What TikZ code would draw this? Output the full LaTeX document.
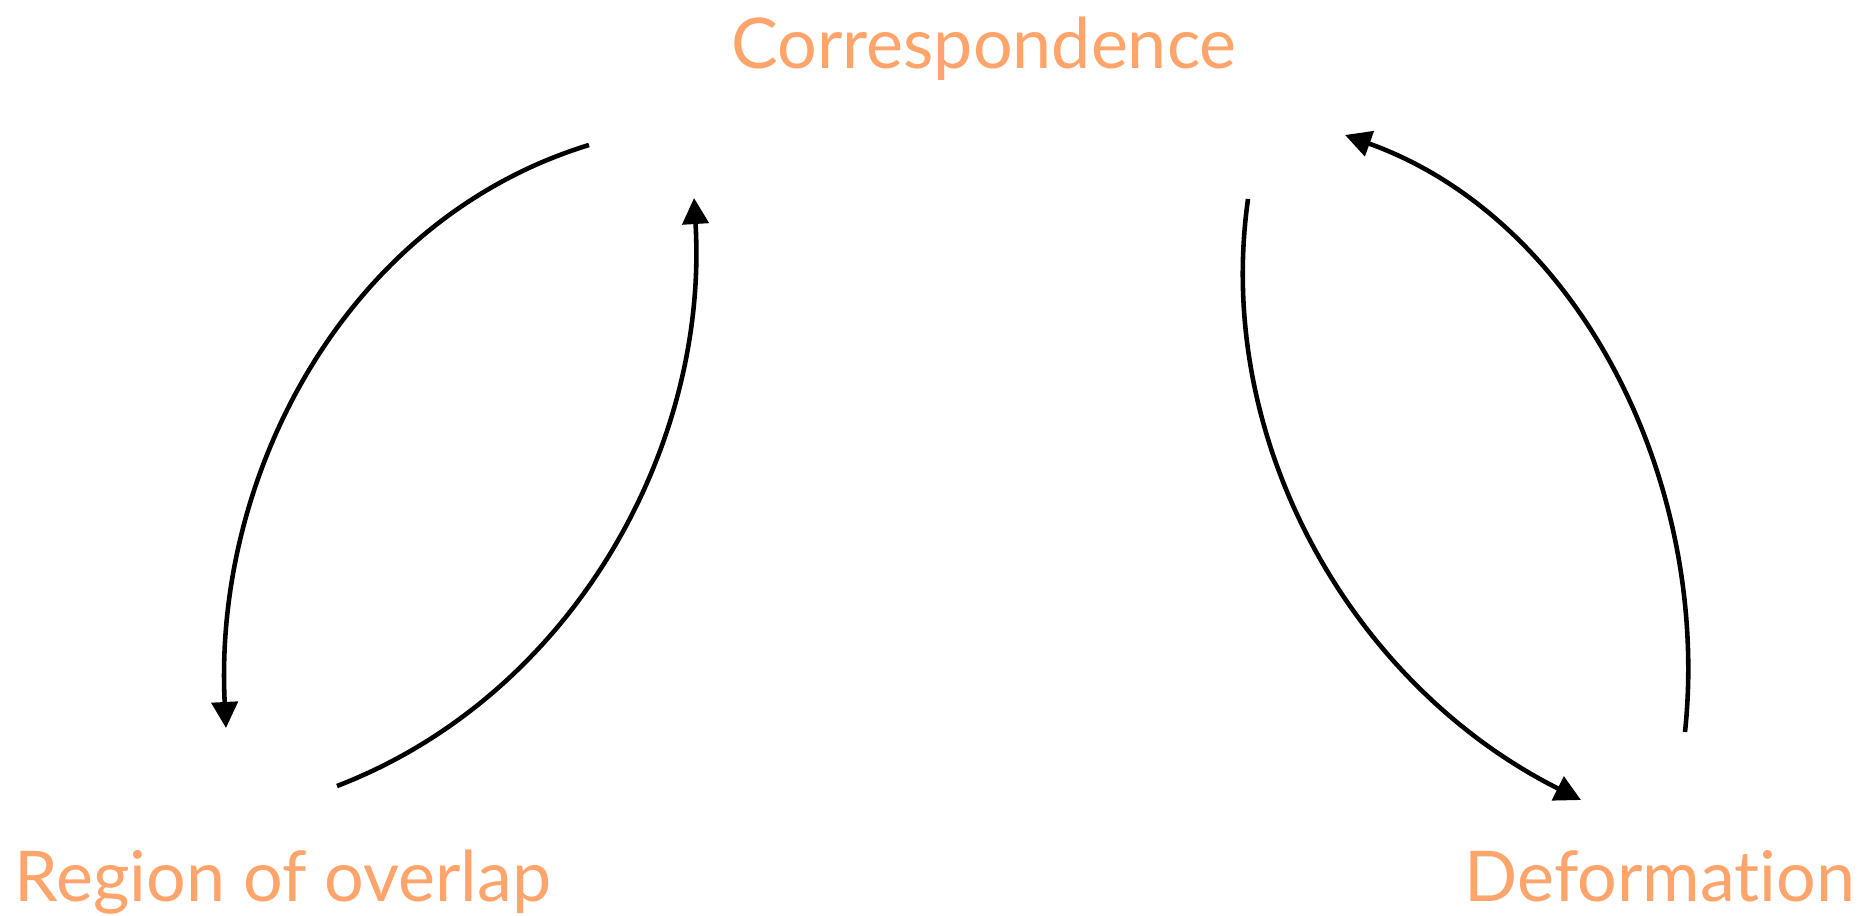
\documentclass[tikz,border=0pt]{standalone}
\usepackage{fontspec}
\setmainfont[Ligatures={NoCommon,NoRequired,NoContextual}]{Lato}
\usetikzlibrary{arrows.meta}
\definecolor{labelorange}{HTML}{FFA46A}
\begin{document}
\begin{tikzpicture}[x=0.01cm,y=-0.01cm,
  lbl/.style={text=labelorange,font=\fontsize{19.9}{24}\selectfont,inner sep=0pt,anchor=base},
  conn/.style={line width=1.3pt,-{Triangle[length=0.26cm,width=0.26cm]}}]
\useasboundingbox[fill=white] (0,0) rectangle (1867,915);
\node[lbl] (corr) at (984,68) {Correspondence};
\node[lbl] (reg) at (283,901) {Region of overlap};
\node[lbl] (def) at (1660,901) {Deformation};
\coordinate (a1) at (589,145); \coordinate (a2) at (226,728);
\coordinate (b1) at (337,786); \coordinate (b2) at (694,198);
\coordinate (c1) at (1248,199); \coordinate (c2) at (1581,800);
\coordinate (d1) at (1685,732); \coordinate (d2) at (1345,135);
\draw[conn] (a1) .. controls (347,219) and (213,473) .. (a2);
\draw[conn] (b1) .. controls (571,696) and (709,449) .. (b2);
\draw[conn] (c1) .. controls (1213,447) and (1357,688) .. (c2);
\draw[conn] (d1) .. controls (1711,483) and (1580,219) .. (d2);
\end{tikzpicture}
\end{document}
